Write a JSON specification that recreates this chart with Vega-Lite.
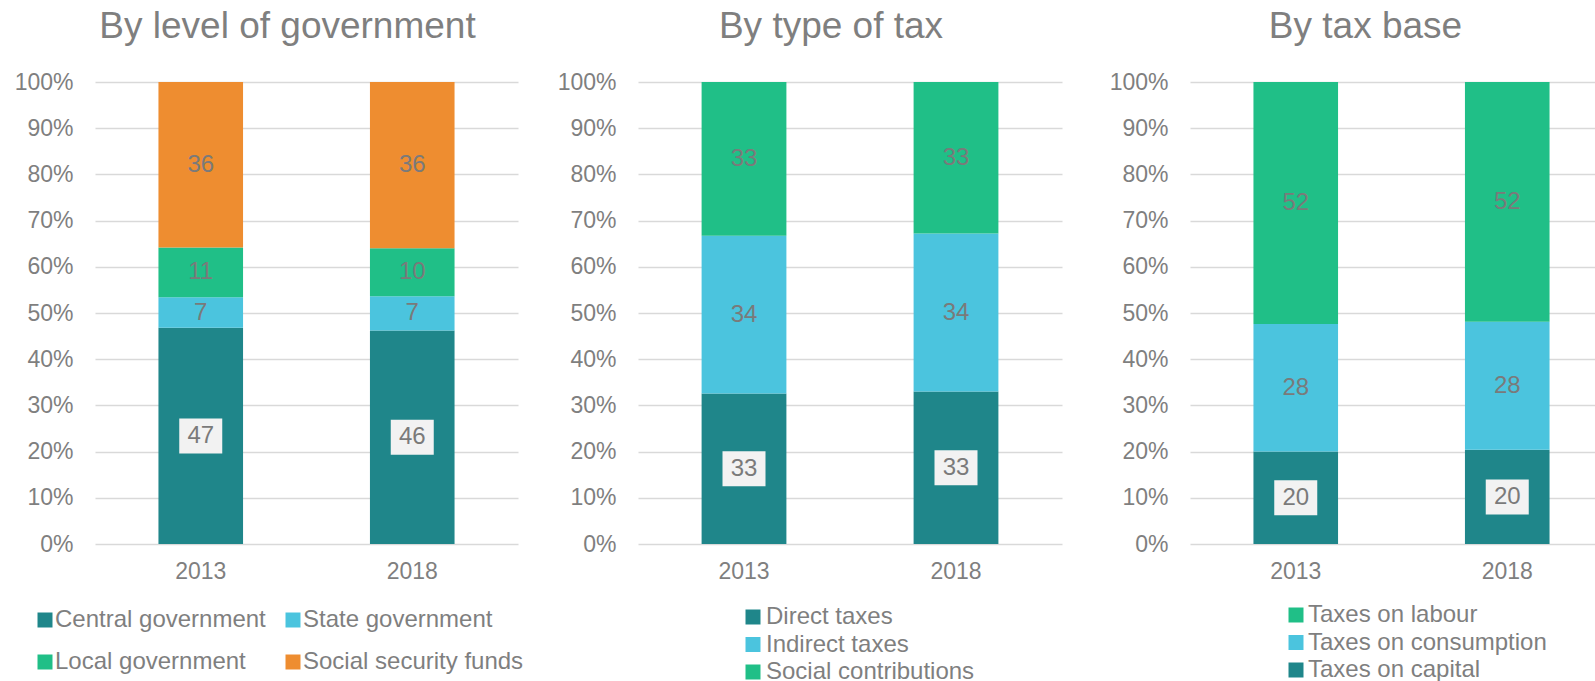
{
  "$schema": "https://vega.github.io/schema/vega-lite/v6.json",
  "padding": {"left": 14, "top": 8, "right": 0, "bottom": 0},
  "background": "white",
  "config": {
    "view": {"stroke": null},
    "font": "Liberation Sans",
    "axis": {"labelFont": "Liberation Sans", "labelColor": "#7f7f7f", "labelFontSize": 23, "domain": false, "ticks": false, "tickSize": 0, "title": null, "gridColor": "#d9d9d9", "gridWidth": 1.5},
    "title": {"font": "Liberation Sans", "fontSize": 37, "fontWeight": "normal", "color": "#7f7f7f", "anchor": "middle", "frame": "group", "baseline": "alphabetic", "offset": 25},
    "legend": {"labelFont": "Liberation Sans", "labelFontSize": 24, "labelColor": "#7f7f7f", "labelLimit": 0, "symbolType": "square", "symbolSize": 225, "symbolStrokeWidth": 0, "title": null, "orient": "none"}
  },
  "datasets": {
    "gov": [
      {"year": "2013", "category": "Central government", "order": 1, "value": 46.8},
      {"year": "2013", "category": "State government", "order": 2, "value": 6.6},
      {"year": "2013", "category": "Local government", "order": 3, "value": 10.8},
      {"year": "2013", "category": "Social security funds", "order": 4, "value": 35.8},
      {"year": "2018", "category": "Central government", "order": 1, "value": 46.2},
      {"year": "2018", "category": "State government", "order": 2, "value": 7.4},
      {"year": "2018", "category": "Local government", "order": 3, "value": 10.4},
      {"year": "2018", "category": "Social security funds", "order": 4, "value": 36.0}
    ],
    "type": [
      {"year": "2013", "category": "Direct taxes", "order": 1, "value": 32.6},
      {"year": "2013", "category": "Indirect taxes", "order": 2, "value": 34.1},
      {"year": "2013", "category": "Social contributions", "order": 3, "value": 33.3},
      {"year": "2018", "category": "Direct taxes", "order": 1, "value": 33.0},
      {"year": "2018", "category": "Indirect taxes", "order": 2, "value": 34.2},
      {"year": "2018", "category": "Social contributions", "order": 3, "value": 32.8}
    ],
    "base": [
      {"year": "2013", "category": "Taxes on capital", "order": 1, "value": 20.0},
      {"year": "2013", "category": "Taxes on consumption", "order": 2, "value": 27.6},
      {"year": "2013", "category": "Taxes on labour", "order": 3, "value": 52.4},
      {"year": "2018", "category": "Taxes on capital", "order": 1, "value": 20.4},
      {"year": "2018", "category": "Taxes on consumption", "order": 2, "value": 27.7},
      {"year": "2018", "category": "Taxes on labour", "order": 3, "value": 51.9}
    ]
  },
  "bounds": "flush",
  "spacing": 120,
  "resolve": {"scale": {"color": "independent", "x": "independent", "y": "independent"}, "legend": {"color": "independent"}},
  "hconcat": [
    {
      "width": 423,
      "height": 462,
      "data": {"name": "gov"},
      "title": {"text": "By level of government", "dx": -19},
      "transform": [
        {"stack": "value", "groupby": ["year"], "sort": [{"field": "order", "order": "ascending"}], "as": ["y0", "y1"]},
        {"calculate": "(datum.y0 + datum.y1) / 2", "as": "mid"}
      ],
      "encoding": {
        "x": {"field": "year", "type": "nominal", "scale": {"paddingInner": 0.6, "paddingOuter": 0.3}, "axis": {"labelAngle": 0, "labelPadding": 16, "grid": false}}
      },
      "layer": [
        {
          "mark": {"type": "bar"},
          "encoding": {
            "y": {"field": "y0", "type": "quantitative", "scale": {"domain": [0, 100], "nice": false}, "axis": {"values": [0, 10, 20, 30, 40, 50, 60, 70, 80, 90, 100], "labelExpr": "datum.value + '%'", "labelPadding": 22}},
            "y2": {"field": "y1"},
            "color": {"field": "category", "type": "nominal",
              "scale": {"domain": ["Central government", "State government", "Local government", "Social security funds"], "range": ["#1f868a", "#4bc4de", "#20bf87", "#ee8d30"]},
              "legend": {"legendX": -62, "legendY": 526, "columns": 2, "direction": "horizontal", "columnPadding": 15, "rowPadding": 18, "labelOffset": -2}}
          }
        },
        {
          "transform": [{"filter": "datum.order == 1"}],
          "mark": {"type": "point", "shape": "M-1,-0.814H1V0.814H-1Z", "size": 1849, "filled": true, "color": "#f2f2f2", "opacity": 1},
          "encoding": {"y": {"field": "mid", "type": "quantitative"}}
        },
        {
          "mark": {"type": "text", "fontSize": 24, "color": "#7a7a7a", "font": "Liberation Sans"},
          "encoding": {"y": {"field": "mid", "type": "quantitative"}, "text": {"field": "value", "type": "quantitative", "format": ".0f"}}
        }
      ]
    },
    {
      "bounds": "flush",
      "spacing": 128,
      "resolve": {"scale": {"color": "independent", "x": "independent", "y": "independent"}, "legend": {"color": "independent"}},
      "hconcat": [
        {
          "width": 424,
          "height": 462,
          "data": {"name": "type"},
          "title": {"text": "By type of tax", "dx": -19},
          "transform": [
            {"stack": "value", "groupby": ["year"], "sort": [{"field": "order", "order": "ascending"}], "as": ["y0", "y1"]},
            {"calculate": "(datum.y0 + datum.y1) / 2", "as": "mid"}
          ],
          "encoding": {
            "x": {"field": "year", "type": "nominal", "scale": {"paddingInner": 0.6, "paddingOuter": 0.3}, "axis": {"labelAngle": 0, "labelPadding": 16, "grid": false}}
          },
          "layer": [
            {
              "mark": {"type": "bar"},
              "encoding": {
                "y": {"field": "y0", "type": "quantitative", "scale": {"domain": [0, 100], "nice": false}, "axis": {"values": [0, 10, 20, 30, 40, 50, 60, 70, 80, 90, 100], "labelExpr": "datum.value + '%'", "labelPadding": 22}},
                "y2": {"field": "y1"},
                "color": {"field": "category", "type": "nominal",
                  "scale": {"domain": ["Direct taxes", "Indirect taxes", "Social contributions"], "range": ["#1f868a", "#4bc4de", "#20bf87"]},
                  "legend": {"legendX": 103, "legendY": 523, "columns": 1, "direction": "vertical", "rowPadding": 3.5, "labelOffset": 1}}
              }
            },
            {
              "transform": [{"filter": "datum.order == 1"}],
              "mark": {"type": "point", "shape": "M-1,-0.814H1V0.814H-1Z", "size": 1849, "filled": true, "color": "#f2f2f2", "opacity": 1},
              "encoding": {"y": {"field": "mid", "type": "quantitative"}}
            },
            {
              "mark": {"type": "text", "fontSize": 24, "color": "#7a7a7a", "font": "Liberation Sans"},
              "encoding": {"y": {"field": "mid", "type": "quantitative"}, "text": {"field": "value", "type": "quantitative", "format": ".0f"}}
            }
          ]
        },
        {
          "width": 405,
          "height": 462,
          "data": {"name": "base"},
          "title": {"text": "By tax base", "dx": -27},
          "transform": [
            {"stack": "value", "groupby": ["year"], "sort": [{"field": "order", "order": "ascending"}], "as": ["y0", "y1"]},
            {"calculate": "(datum.y0 + datum.y1) / 2", "as": "mid"}
          ],
          "encoding": {
            "x": {"field": "year", "type": "nominal", "scale": {"paddingInner": 0.6, "paddingOuter": 0.3, "range": [0, 423]}, "axis": {"labelAngle": 0, "labelPadding": 16, "grid": false}}
          },
          "layer": [
            {
              "mark": {"type": "bar"},
              "encoding": {
                "y": {"field": "y0", "type": "quantitative", "scale": {"domain": [0, 100], "nice": false}, "axis": {"values": [0, 10, 20, 30, 40, 50, 60, 70, 80, 90, 100], "labelExpr": "datum.value + '%'", "labelPadding": 22}},
                "y2": {"field": "y1"},
                "color": {"field": "category", "type": "nominal",
                  "scale": {"domain": ["Taxes on labour", "Taxes on consumption", "Taxes on capital"], "range": ["#20bf87", "#4bc4de", "#1f868a"]},
                  "legend": {"legendX": 94, "legendY": 521, "columns": 1, "direction": "vertical", "rowPadding": 3.5, "labelOffset": 0}}
              }
            },
            {
              "transform": [{"filter": "datum.order == 1"}],
              "mark": {"type": "point", "shape": "M-1,-0.814H1V0.814H-1Z", "size": 1849, "filled": true, "color": "#f2f2f2", "opacity": 1},
              "encoding": {"y": {"field": "mid", "type": "quantitative"}}
            },
            {
              "mark": {"type": "text", "fontSize": 24, "color": "#7a7a7a", "font": "Liberation Sans"},
              "encoding": {"y": {"field": "mid", "type": "quantitative"}, "text": {"field": "value", "type": "quantitative", "format": ".0f"}}
            }
          ]
        }
      ]
    }
  ]
}
